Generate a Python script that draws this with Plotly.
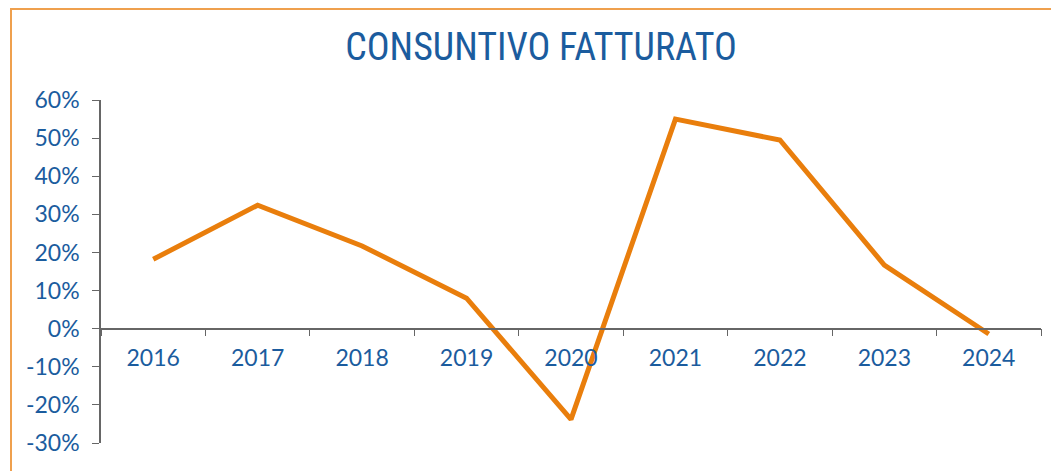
import plotly.graph_objects as go

anni = ["2016", "2017", "2018", "2019", "2020", "2021", "2022", "2023", "2024"]
variazione = [0.182, 0.324, 0.217, 0.080, -0.238, 0.550, 0.495, 0.167, -0.014]

y_tick_valori = [-0.3, -0.2, -0.1, 0.0, 0.1, 0.2, 0.3, 0.4, 0.5, 0.6]
y_tick_etichette = ["-30%", "-20%", "-10%", "0%", "10%", "20%", "30%", "40%", "50%", "60%"]

blu = "#1B5C9E"
arancio = "#E97E0C"

fig = go.Figure()

fig.add_trace(go.Scatter(
    x=anni,
    y=variazione,
    mode="lines",
    line=dict(color=arancio, width=5),
    showlegend=False,
))

# la pagina ha 8px di margine del body: tutto spostato di 8px
fig.update_layout(
    width=1059,
    height=471,
    paper_bgcolor="white",
    plot_bgcolor="white",
    margin=dict(l=93, r=26, t=92, b=36),
    title=dict(
        text="CONSUNTIVO FATTURATO",
        x=533 / 1059,
        xanchor="center",
        y=1 - 39 / 471,
        yanchor="middle",
        font=dict(family="Roboto Condensed, DejaVu Sans Condensed, Liberation Sans Narrow, sans-serif",
                  size=38, color=blu),
    ),
    font=dict(family="Lato, Noto Sans, sans-serif", size=23, color=blu),
)

fig.update_yaxes(
    range=[-0.3, 0.6],
    tickvals=y_tick_valori,
    ticktext=y_tick_etichette,
    showgrid=False,
    zeroline=False,
    showline=True,
    linecolor="#666666",
    linewidth=1.5,
    ticks="outside",
    ticklen=7,
    tickcolor="#666666",
    ticklabelstandoff=8,
    tickfont=dict(size=23, color=blu),
)

fig.update_xaxes(
    type="category",
    range=[-0.5, len(anni) - 0.5],
    anchor="free",
    position=1 / 3,
    showgrid=False,
    showline=True,
    linecolor="#666666",
    linewidth=1.5,
    ticks="outside",
    tickson="boundaries",
    ticklen=7,
    tickcolor="#666666",
    ticklabelstandoff=9,
    tickfont=dict(size=23, color=blu),
)

# cornice arancione del grafico
fig.add_shape(
    type="rect",
    xref="paper", yref="paper",
    x0=(11 - 101) / 940, x1=1.1,
    y0=-0.3, y1=(435 - 1) / 343,
    line=dict(color="#EFA04E", width=2),
    layer="below",
)

fig.write_html("out.html")
